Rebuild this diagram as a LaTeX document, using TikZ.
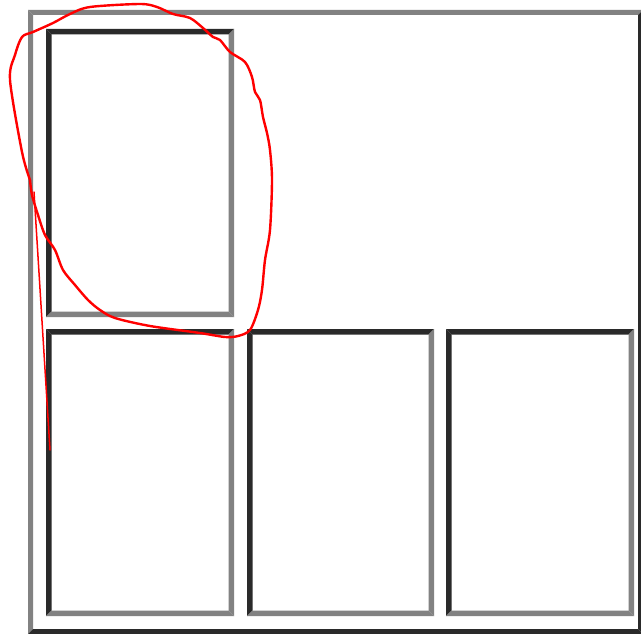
\documentclass[tikz,border=0pt]{standalone}
\definecolor{darkedge}{HTML}{2A2A2A}
\definecolor{lightedge}{HTML}{828282}
\definecolor{annot}{HTML}{FF0000}
\newcommand{\bevelframe}[7]{%
  % #1 x1, #2 y1, #3 x2, #4 y2, #5 width, #6 top-left colour, #7 bottom-right colour
  \fill[#6] (#1,#2) -- (#3,#2) -- (#3-#5,#2+#5) -- (#1+#5,#2+#5) -- cycle;
  \fill[#6] (#1,#2) -- (#1+#5,#2+#5) -- (#1+#5,#4-#5) -- (#1,#4) -- cycle;
  \fill[#7] (#1,#4) -- (#3,#4) -- (#3-#5,#4-#5) -- (#1+#5,#4-#5) -- cycle;
  \fill[#7] (#3,#2) -- (#3,#4) -- (#3-#5,#4-#5) -- (#3-#5,#2+#5) -- cycle;
}
\begin{document}
\begin{tikzpicture}[x=1pt,y=-1pt,
  annotline/.style={draw=annot,line width=2.4pt,line join=round,line cap=round}]
\useasboundingbox (0,0) rectangle (641,634);
\fill[white] (0,0) rectangle (641,634);
% outer frame (inset)
\bevelframe{28}{10}{643}{634}{5}{lightedge}{darkedge}
% inner panels (outset)
\bevelframe{46}{29}{234}{317}{5.5}{darkedge}{lightedge}
\bevelframe{46}{329}{234}{616}{5.5}{darkedge}{lightedge}
\bevelframe{247}{329}{434}{616}{5.5}{darkedge}{lightedge}
\bevelframe{446}{329}{634}{616}{5.5}{darkedge}{lightedge}
% red hand-drawn annotation
\draw[annotline] plot[smooth,tension=0.5] coordinates {
  (30,180) (22,152) (10,80) (15,55) (22,37) (33,32) (53,23) (70,14) (90,7)
  (140,4) (157,7) (173,14) (190,18) (203,28) (213,37) (220,40) (230,52)
  (245,62) (252,77) (255,92) (260,100) (263,117) (267,133) (270,150)
  (272,180) (270,230) (265,260) (262,290) (258,310) (250,330) (238,336)
  (225,337) (200,333) (150,326) (115,318) (100,310) (88,300) (75,285)
  (63,270) (55,250) (45,235) (38,215) (32,195) (30,180)};
\coordinate (tailstart) at (34,192);
\coordinate (tailend) at (50,450);
\draw[annot,line width=1.5pt,line cap=round] (tailstart) -- (tailend);
\end{tikzpicture}
\end{document}
